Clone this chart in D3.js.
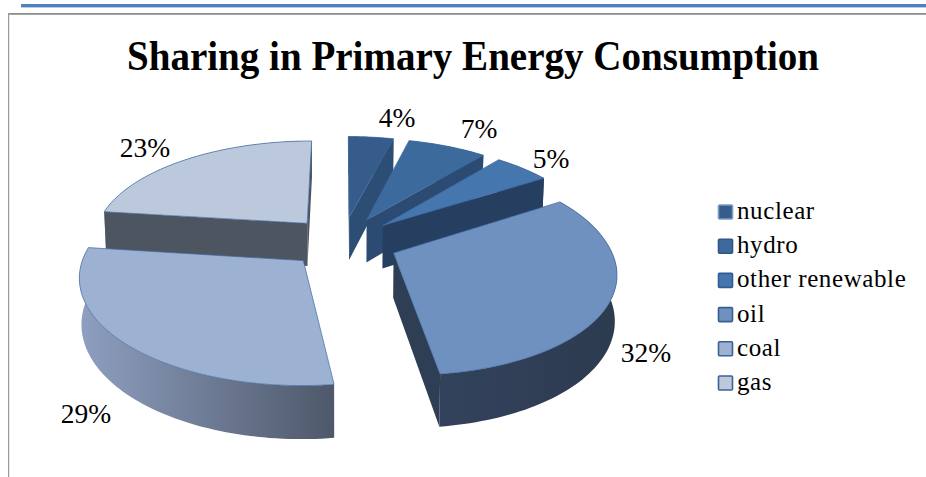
<!DOCTYPE html>
<html><head><meta charset="utf-8">
<script src="https://cdn.jsdelivr.net/npm/d3@7"></script>
<style>html,body{margin:0;padding:0;background:#fff;overflow:hidden}svg{display:block}text{font-family:"Liberation Serif",serif;fill:#000}</style>
</head><body><svg id="c" width="926" height="477"></svg>
<script>
const titleText = "Sharing in Primary Energy Consumption";
const categories = ["nuclear","hydro","other renewable","oil","coal","gas"];
const shares = [4,7,5,32,29,23];
const topColors  = ["#355c8a","#3d6a9d","#4676ae","#6f91c0","#9db1d2","#bcc9dd"];
const wallColors = ["#2c4d74","#2b4b72","#263e5f","#2e3e55","#566074","#4d5560"];
const rimFrom    = ["#34588a","#34588a","#2a4468","#33425c","#8e9fc0","#8d9ab0"];
const rimTo      = ["#2c4d74","#2c4d74","#263e5f","#2d3b50","#4e586a","#4d5560"];
const swatchEdge = ["#7c9bc4","#2f5788","#2f5c94","#365f94","#3a6296","#3a6296"];
const labelAnchor = [[397,127],[479,138],[551,168],[646,362],[86,423],[145,157]];

const drawOrder = [5,0,1,2,4,3];   // back to front
const cx = 342.5, cy = 242, R = 215, explode = 55, depth = 44, p = 0.0007, q = 0.465, shear = 0.02;

function project(X, Y, z) {
  const s = 1 / (1 - p * Y), k = z ? 0.992 : 1;
  return [cx + (X + shear * Math.max(Y, 0)) * s * k, cy + q * Y * s + z * s];
}
const svg = d3.select("#c");
const defs = svg.append("defs");

svg.append("rect").attr("x",21).attr("y",4).attr("width",905).attr("height",3.4).attr("fill","#4f81bd");
svg.append("rect").attr("x",8).attr("y",13).attr("width",918).attr("height",1.8).attr("fill","#8e8e8e");
svg.append("rect").attr("x",8).attr("y",13).attr("width",1.2).attr("height",464).attr("fill","#9a9a9a");

svg.append("text").attr("x",473).attr("y",70).attr("text-anchor","middle")
  .attr("font-size",42).attr("font-weight","bold")
  .attr("textLength",692).attr("lengthAdjust","spacingAndGlyphs").text(titleText);

const arcs = d3.pie().sort(null).startAngle(0).endAngle(2*Math.PI)(shares);
const line = d3.line();

drawOrder.forEach(i => {
  const a = arcs[i], mid = (a.startAngle + a.endAngle) / 2;
  const ox = explode * Math.sin(mid), oy = -explode * Math.cos(mid);
  const ground = (ang, r) => [ox + r * Math.sin(ang), oy - r * Math.cos(ang)];
  const n = Math.max(6, Math.ceil((a.endAngle - a.startAngle) * 40));
  const angs = d3.range(n + 1).map(j => a.startAngle + (a.endAngle - a.startAngle) * j / n);
  const rimG = angs.map(t => ground(t, R));
  const top = rimG.map(g => project(g[0], g[1], 0));
  const bot = rimG.map(g => project(g[0], g[1], depth));
  const apexT = project(ox, oy, 0), apexB = project(ox, oy, depth);
  const g = svg.append("g");

  const xs = top.concat(bot).map(d => d[0]);
  const id = "rim" + i;
  const lg = defs.append("linearGradient").attr("id", id).attr("gradientUnits","userSpaceOnUse")
    .attr("x1", d3.min(xs)).attr("x2", d3.max(xs)).attr("y1",0).attr("y2",0);
  lg.append("stop").attr("offset",0).attr("stop-color", rimFrom[i]);
  lg.append("stop").attr("offset",1).attr("stop-color", rimTo[i]);
  g.append("path").attr("d", line(top.concat(bot.slice().reverse())) + "Z").attr("fill", `url(#${id})`);

  const wallS = [apexT, top[0], bot[0], apexB];
  const wallE = [top[n], apexT, apexB, bot[n]];
  [wallS, wallE].forEach(w => {
    if (d3.polygonArea(w) > 0) g.append("path").attr("d", line(w) + "Z").attr("fill", wallColors[i]);
  });

  g.append("path").attr("d", line([apexT].concat(top)) + "Z")
    .attr("fill", topColors[i]).attr("stroke", "#3f6aa0").attr("stroke-width", 0.7).attr("stroke-linejoin","round");
});

shares.forEach((v,i) => {
  svg.append("text").attr("x",labelAnchor[i][0]).attr("y",labelAnchor[i][1])
    .attr("text-anchor","middle").attr("font-size",27.5).text(v + "%");
});

const ly = d3.scalePoint().domain(categories).range([212,383]);
categories.forEach((c,i) => {
  svg.append("rect").attr("x",718.5).attr("y",ly(c)-7).attr("width",14).attr("height",14).attr("rx",1)
    .attr("fill",topColors[i]).attr("stroke",swatchEdge[i]).attr("stroke-width",1.6);
  svg.append("text").attr("x",737).attr("y",ly(c)+7).attr("font-size",25).attr("letter-spacing",0.6).text(c);
});
</script></body></html>
